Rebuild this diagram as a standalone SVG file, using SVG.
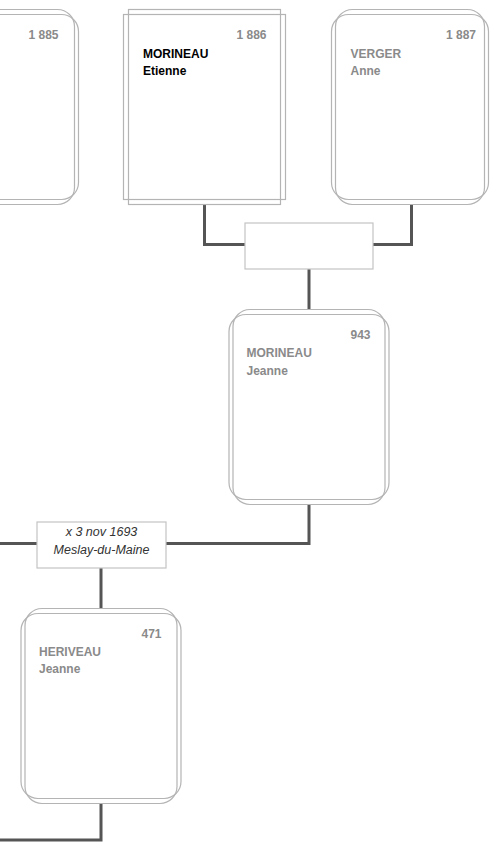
<svg xmlns="http://www.w3.org/2000/svg" width="494" height="843" viewBox="0 0 494 843">
<style>
.bx{fill:none;stroke:#b4b4b4;stroke-width:1.2}
.bg{fill:#fff;stroke:none}
.num{font-family:"Liberation Sans",Arial,sans-serif;font-size:12px;font-weight:bold;fill:#8a8a8a;text-anchor:end}
.nm{font-family:"Liberation Sans",Arial,sans-serif;font-size:12px;font-weight:bold;fill:#8a8a8a}
.nm.k{fill:#000}
.mar{fill:#fff;stroke:#c4c4c4;stroke-width:1.2}
.mt{font-family:"Liberation Sans",Arial,sans-serif;font-size:12.5px;font-style:italic;fill:#333;text-anchor:middle}
.ln{fill:none;stroke:#555;stroke-width:3}
</style>
<g id="connectors">
<path class="ln" d="M204.5,204 V244.5 H245"/>
<path class="ln" d="M411.5,204 V244.5 H373"/>
<path class="ln" d="M309,269 V310"/>
<path class="ln" d="M309,504 V543.5 H166"/>
<path class="ln" d="M37,543.5 H0"/>
<path class="ln" d="M101,568 V609"/>
<path class="ln" d="M101,804 V840 H0"/>
</g>
<g id="p1885">
<rect class="bg" x="-79.5" y="9.5" width="158" height="195"/>
<rect class="bx" x="-75.5" y="9.5" width="150" height="195" rx="17"/>
<rect class="bx" x="-79.5" y="14.5" width="158" height="185" rx="17"/>
<text class="num" x="58.5" y="39">1 885</text>
</g>
<g id="p1886">
<rect class="bg" x="123.5" y="9.5" width="162" height="195"/>
<rect class="bx" x="128.5" y="9.5" width="152" height="195"/>
<rect class="bx" x="123.5" y="14.5" width="162" height="185"/>
<text class="num" x="266.5" y="39">1 886</text>
<text class="nm k" x="143" y="57.5">MORINEAU</text>
<text class="nm k" x="143" y="75">Etienne</text>
</g>
<g id="p1887">
<rect class="bg" x="331.5" y="9.5" width="157" height="195"/>
<rect class="bx" x="335.5" y="9.5" width="149" height="195" rx="17"/>
<rect class="bx" x="331.5" y="14.5" width="157" height="185" rx="17"/>
<text class="num" x="476" y="39">1 887</text>
<text class="nm" x="350.5" y="57.5">VERGER</text>
<text class="nm" x="350.5" y="75">Anne</text>
</g>
<g id="m943">
<rect class="mar" x="245" y="223" width="128" height="46"/>
</g>
<g id="p943">
<rect class="bg" x="229" y="309.5" width="160" height="195"/>
<rect class="bx" x="233" y="309.5" width="152" height="195" rx="17"/>
<rect class="bx" x="229" y="314.5" width="160" height="185" rx="17"/>
<text class="num" x="370.5" y="339">943</text>
<text class="nm" x="246.5" y="357">MORINEAU</text>
<text class="nm" x="246.5" y="374.5">Jeanne</text>
</g>
<g id="m471">
<rect class="mar" x="37" y="522" width="129" height="46"/>
<text class="mt" x="101.5" y="535.5">x 3 nov 1693</text>
<text class="mt" x="101.5" y="553.5">Meslay-du-Maine</text>
</g>
<g id="p471">
<rect class="bg" x="21" y="608.5" width="160" height="195"/>
<rect class="bx" x="25" y="608.5" width="152" height="195" rx="17"/>
<rect class="bx" x="21" y="613.5" width="160" height="185" rx="17"/>
<text class="num" x="161.5" y="637.5">471</text>
<text class="nm" x="39" y="655.5">HERIVEAU</text>
<text class="nm" x="39" y="673">Jeanne</text>
</g>
</svg>
